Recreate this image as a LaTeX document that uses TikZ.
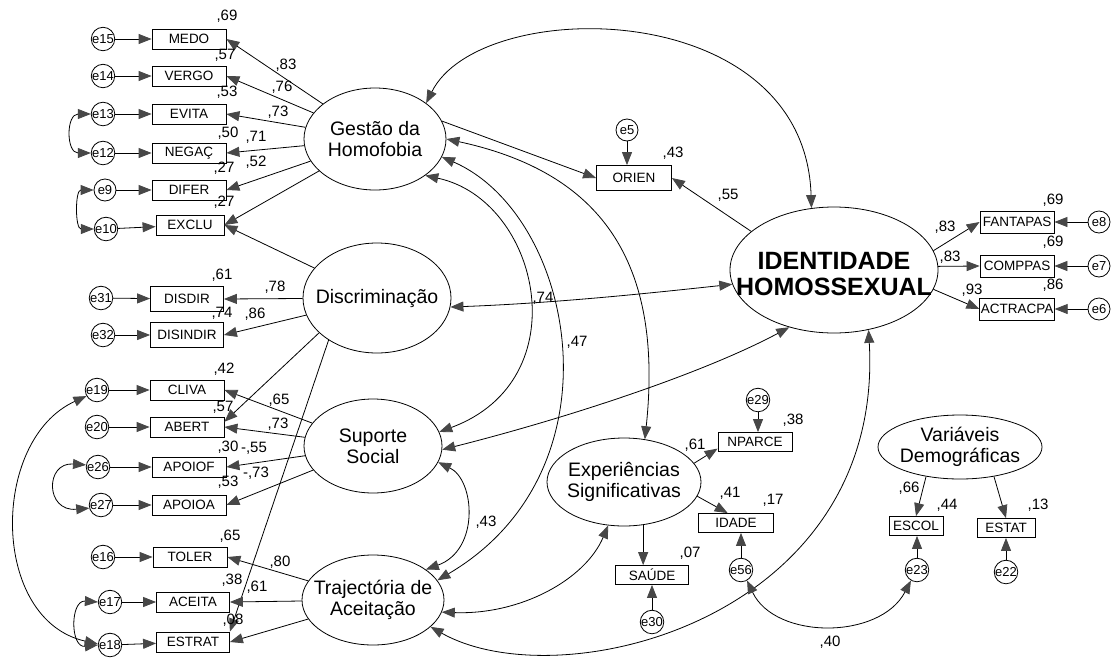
\documentclass[tikz,border=0pt]{standalone}
\usepackage{fontspec}
\setmainfont{Liberation Sans}
\usetikzlibrary{arrows.meta,shapes.geometric}
\begin{document}
\begin{tikzpicture}[x=1pt,y=-1pt,
  >={Triangle[length=13pt,width=10pt,color=black!72]},
  obs/.style={draw, line width=0.8pt, minimum width=74pt, minimum height=20pt, inner sep=1pt, font=\fontsize{13.5}{13.5}\selectfont},
  err/.style={draw, circle, line width=0.8pt, minimum size=22pt, inner sep=0pt, font=\fontsize{13}{13}\selectfont},
  lat/.style={draw, ellipse, line width=0.8pt, inner sep=0pt},
  lattxt/.style={align=center, font=\fontsize{19.5}{21}\selectfont, inner sep=0pt},
  lab/.style={font=\fontsize{15}{15}\selectfont, inner sep=0pt},
  conn/.style={line width=0.8pt, ->},
  cov/.style={line width=0.8pt, <->}]
\useasboundingbox (0,0) rectangle (1114,662);
\fill[white] (0,0) rectangle (1114,662);

% ---------- observed (left) ----------
\node[obs] (MEDO) at (189,39) {MEDO};
\node[obs] (VERGO) at (189,76) {VERGO};
\node[obs] (EVITA) at (189,114) {EVITA};
\node[obs] (NEGAC) at (189,153) {NEGAÇ};
\node[obs] (DIFER) at (189,190) {DIFER};
\node[obs, minimum width=68pt] (EXCLU) at (190,225) {EXCLU};
\node[obs, minimum width=73pt, minimum height=25pt] (DISDIR) at (187,299) {DISDIR};
\node[obs, minimum width=73pt, minimum height=25pt] (DISINDIR) at (187,335) {DISINDIR};
\node[obs] (CLIVA) at (187,390) {CLIVA};
\node[obs] (ABERT) at (187,427) {ABERT};
\node[obs] (APOIOF) at (189,467) {APOIOF};
\node[obs] (APOIOA) at (189,505) {APOIOA};
\node[obs] (TOLER) at (190,557) {TOLER};
\node[obs, minimum width=73pt] (ACEITA) at (193,602) {ACEITA};
\node[obs, minimum width=73pt] (ESTRAT) at (193,642) {ESTRAT};

% ---------- errors (left) ----------
\node[err] (e15) at (103,39) {e15};
\node[err] (e14) at (103,76) {e14};
\node[err] (e13) at (103,114) {e13};
\node[err] (e12) at (103,153) {e12};
\node[err] (e9) at (105,190) {e9};
\node[err] (e10) at (106,229) {e10};
\node[err] (e31) at (101,298) {e31};
\node[err] (e32) at (103,335) {e32};
\node[err] (e19) at (97,390) {e19};
\node[err] (e20) at (97,427) {e20};
\node[err] (e26) at (98,467) {e26};
\node[err] (e27) at (101,505) {e27};
\node[err] (e16) at (103,557) {e16};
\node[err] (e17) at (110,602) {e17};
\node[err] (e18) at (110,645) {e18};

% ---------- latent ----------
\node[lat, minimum width=142pt, minimum height=102pt] (G) at (375,139) {};
\node[lattxt] (Gt) at (G) {Gestão da\\Homofobia};
\node[lat, minimum width=148pt, minimum height=110pt] (D) at (377,298) {};
\node[lattxt] (Dt) at (D) {Discriminação};
\node[lat, minimum width=138pt, minimum height=94pt] (S) at (373,446) {};
\node[lattxt] (St) at (S) {Suporte\\Social};
\node[lat, minimum width=142pt, minimum height=90pt] (T) at (373,600) {};
\node[lattxt] (Tt) at (T) {Trajectória de\\Aceitação};
\node[lat, minimum width=154pt, minimum height=88pt] (X) at (624,482) {};
\node[lattxt] (Xt) at (X) {Experiências\\Significativas};
\node[lat, minimum width=208pt, minimum height=126pt] (I) at (834,270) {};
\node[align=center, inner sep=0pt, font=\fontsize{25}{26}\selectfont\bfseries] (It) at ([yshift=-4pt]I.center) {IDENTIDADE\\HOMOSSEXUAL};
\node[lat, minimum width=164pt, minimum height=64pt] (V) at (960,447) {};
\node[lattxt] (Vt) at (V) {Variáveis\\Demográficas};

% ---------- observed (right) ----------
\node[obs, minimum width=75pt, minimum height=25pt] (ORIEN) at (634,178) {ORIEN};
\node[err] (e5) at (627,130) {e5};
\node[obs, minimum height=22pt] (FANTAPAS) at (1017,222) {FANTAPAS};
\node[obs, minimum height=22pt] (COMPPAS) at (1017,266) {COMPPAS};
\node[obs, minimum height=22pt] (ACTRACPA) at (1017,309) {ACTRACPA};
\node[err] (e8) at (1099,222) {e8};
\node[err] (e7) at (1099,266) {e7};
\node[err] (e6) at (1099,309) {e6};
\node[obs, minimum height=19pt] (NPARCE) at (755,442) {NPARCE};
\node[err] (e29) at (758,400) {e29};
\node[obs, minimum width=75pt, minimum height=19pt] (IDADE) at (736,523) {IDADE};
\node[err] (e56) at (741,570) {e56};
\node[obs, minimum width=73pt, minimum height=19pt] (SAUDE) at (652,575) {SAÚDE};
\node[err] (e30) at (652,622) {e30};
\node[obs, minimum width=54pt, minimum height=19pt] (ESCOL) at (916,526) {ESCOL};
\node[err] (e23) at (917,570) {e23};
\node[obs, minimum width=58pt, minimum height=19pt] (ESTAT) at (1006,528) {ESTAT};
\node[err] (e22) at (1006,572) {e22};

% ---------- error arrows ----------
\foreach \e/\b in {e15/MEDO,e14/VERGO,e13/EVITA,e12/NEGAC,e9/DIFER,e10/EXCLU,e31/DISDIR,e32/DISINDIR,e19/CLIVA,e20/ABERT,e26/APOIOF,e27/APOIOA,e16/TOLER,e17/ACEITA,e18/ESTRAT,e8/FANTAPAS,e7/COMPPAS,e6/ACTRACPA}
  \draw[conn] (\e) -- (\b);
\draw[conn] (e5) -- (e5 |- ORIEN.north);
\draw[conn] (e29) -- (e29 |- NPARCE.north);
\draw[conn] (e56) -- (e56 |- IDADE.south);
\draw[conn] (e30) -- (e30 |- SAUDE.south);
\draw[conn] (e23) -- (e23 |- ESCOL.south);
\draw[conn] (e22) -- (e22 |- ESTAT.south);

% ---------- loadings ----------
\foreach \b in {MEDO,VERGO,EVITA,NEGAC,DIFER,EXCLU} \draw[conn] (G) -- (\b.east);
\draw[conn] (D) -- (EXCLU.east);
\draw[conn] (D) -- (DISDIR.east);
\draw[conn] (D) -- (DISINDIR.east);
\draw[conn] (D.-149) -- (ABERT.8);
\draw[conn] (D.-139) -- (ESTRAT.north east);
\foreach \b in {CLIVA,ABERT,APOIOF,APOIOA} \draw[conn] (S) -- (\b.east);
\foreach \b in {TOLER,ACEITA,ESTRAT} \draw[conn] (T) -- (\b.east);
\draw[conn] (G.15) -- (ORIEN.west);
\draw[conn] (I.155) -- (ORIEN.east);
\draw[conn] (I.11) -- (FANTAPAS.west);
\draw[conn] (I.2) -- (COMPPAS.west);
\draw[conn] (I.-11) -- (ACTRACPA.west);
\draw[conn] (X.15) -- (NPARCE.190);
\draw[conn] (X.-11) -- (IDADE.130);
\draw[conn] (X.-66) -- (X.-66 |- SAUDE.north);
\draw[conn] (V.-139) -- (ESCOL.north);
\draw[conn] (V.-41) -- (ESTAT.north);

% ---------- covariances ----------
\draw[cov] (G.35) .. controls (480,-5) and (805,-5) .. (I.110);
\draw[cov] (D.-7) .. controls (560,303) and (660,292) .. (I.188);
\draw[cov] (S.-3) .. controls (560,420) and (700,375) .. (I.-128);
\draw[cov] (G.0) .. controls (590,170) and (665,250) .. (X.64);
\draw[cov] (G.-15) .. controls (575,215) and (625,470) .. (T.17);
\draw[cov] (G.-36) .. controls (540,200) and (580,380) .. (S.12);
\draw[cov] (S.-14) .. controls (475,480) and (480,550) .. (T.30);
\draw[cov] (X.-110) .. controls (585,580) and (520,615) .. (T.-10);
\draw[cov] (T.-25) .. controls (560,700) and (885,620) .. (I.-60);
\draw[cov] (e56.-60) .. controls (775,640) and (880,640) .. (e23.-120);
\draw[cov] (e13.west) .. controls (66,114) and (66,153) .. (e12.west);
\draw[cov] (e9.west) .. controls (75,190) and (75,229) .. (e10.west);
\draw[cov] (e26.170) .. controls (45,462) and (45,512) .. (e27.195);
\draw[cov] (e17.west) .. controls (70,600) and (70,648) .. (e18.180);
\draw[cov] (e19.-150) .. controls (-10,440) and (-10,620) .. (e18.175);

% ---------- labels ----------
\node[lab] (r1) at (227,16) {,69};
\node[lab] (r2) at (225,55) {,57};
\node[lab] (r3) at (227,92) {,53};
\node[lab] (r4) at (228,133) {,50};
\node[lab] (r5) at (224,168) {,27};
\node[lab] (r6) at (224,202) {,27};
\node[lab] (c1) at (286,65) {,83};
\node[lab] (c2) at (282,87) {,76};
\node[lab] (c3) at (278,112) {,73};
\node[lab] (c4) at (256,137) {,71};
\node[lab] (c5) at (256,162) {,52};
\node[lab] (r7) at (222,275) {,61};
\node[lab] (c6) at (275,287) {,78};
\node[lab] (r8) at (222,313) {,74};
\node[lab] (c7) at (255,314) {,86};
\node[lab] (r9) at (224,369) {,42};
\node[lab] (c8) at (279,400) {,65};
\node[lab] (r10) at (223,407) {,57};
\node[lab] (c9) at (278,424) {,73};
\node[lab] (r11) at (228,447) {,30};
\node[lab] (c10) at (254,448) {-,55};
\node[lab] (c11) at (256,473) {-,73};
\node[lab] (r12) at (228,482) {,53};
\node[lab] (r13) at (230,536) {,65};
\node[lab] (c12) at (280,562) {,80};
\node[lab] (r14) at (232,580) {,38};
\node[lab] (c13) at (257,587) {,61};
\node[lab] (r15) at (233,620) {,08};
\node[lab] (k1) at (543,298) {,74};
\node[lab] (k2) at (577,342) {,47};
\node[lab] (k3) at (486,522) {,43};
\node[lab] (r16) at (673,153) {,43};
\node[lab] (c14) at (728,195) {,55};
\node[lab] (r17) at (1053,200) {,69};
\node[lab] (r18) at (1053,242) {,69};
\node[lab] (r19) at (1053,285) {,86};
\node[lab] (c15) at (945,227) {,83};
\node[lab] (c16) at (950,257) {,83};
\node[lab] (c17) at (972,290) {,93};
\node[lab] (r20) at (793,420) {,38};
\node[lab] (c18) at (695,445) {,61};
\node[lab] (c19) at (730,493) {,41};
\node[lab] (r21) at (773,500) {,17};
\node[lab] (r22) at (690,553) {,07};
\node[lab] (c20) at (909,488) {,66};
\node[lab] (r23) at (947,505) {,44};
\node[lab] (r24) at (1038,505) {,13};
\node[lab] (k4) at (830,642) {,40};
\end{tikzpicture}
\end{document}
